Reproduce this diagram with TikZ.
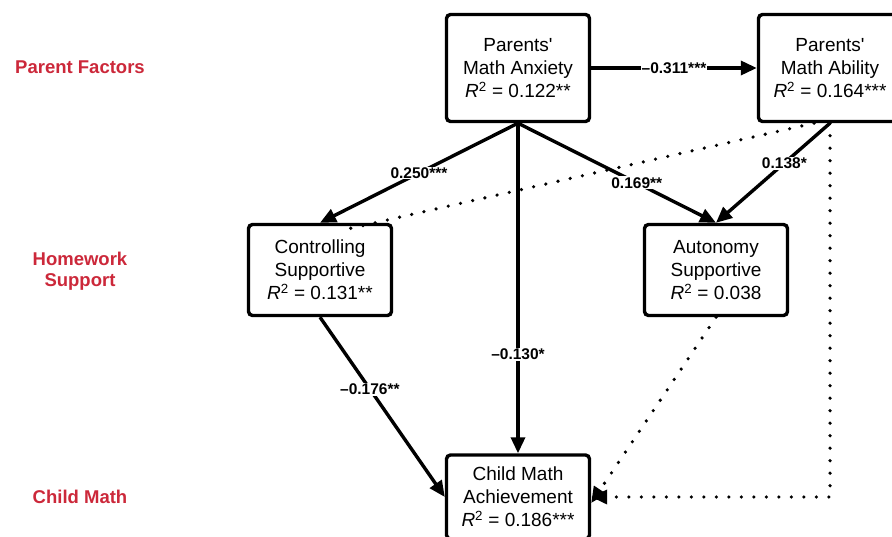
\documentclass[tikz,border=0pt]{standalone}
\usepackage{fontspec}
\setmainfont{Liberation Sans}
\newfontfamily\plainsans{Liberation Sans}
\usepackage{tikz}
\usetikzlibrary{arrows.meta,shapes}
\definecolor{factorred}{RGB}{204,40,58}
\tikzstyle{varbox}=[draw,line width=3.4pt,rounded corners=4pt,align=center,minimum width=143pt,inner sep=2pt,font=\plainsans\fontsize{19}{23}\selectfont]
\tikzstyle{level}=[text=factorred,align=center,font=\bfseries\fontsize{18.5}{21.5}\selectfont]
\tikzstyle{edge} = [draw,line width=3.4pt,-{Triangle[length=16pt,width=14pt]}]
\tikzstyle{dotedge} = [draw,line width=3.6pt,line cap=round,dash pattern=on 0pt off 12.5pt]
\tikzstyle{coef}=[fill=white,inner sep=1pt,font=\bfseries\fontsize{15.5}{17}\selectfont]

\begin{document}
\begin{tikzpicture}[x=1pt,y=-1pt]

    \clip (0,0) rectangle (892,537);
    \fill[white] (0,0) rectangle (892,537);

    % side labels
    \node[level] (lblparent) at (80,67) {Parent Factors};
    \node[level] (lblhomework) at (80,271) {Homework\\Support};
    \node[level] (lblchild) at (80,497) {Child Math};

    % variables
    \foreach \pos/\name/\txt in {{(518,68)/anxiety/Parents'\\Math Anxiety\\\textit{R}\textsuperscript{2} = 0.122**},
                                 {(830,68)/ability/Parents'\\Math Ability\\\textit{R}\textsuperscript{2} = 0.164***}}
        \node[varbox, minimum height=107pt] (\name) at \pos {\txt};

    \foreach \pos/\name/\txt in {{(320,270)/ctrl/Controlling\\Supportive\\\textit{R}\textsuperscript{2} = 0.131**},
                                 {(716,270)/auto/Autonomy\\Supportive\\\textit{R}\textsuperscript{2} = 0.038}}
        \node[varbox, minimum height=91pt] (\name) at \pos {\txt};

    \node[varbox, minimum height=84pt] (child) at (518,497) {Child Math\\Achievement\\\textit{R}\textsuperscript{2} = 0.186***};

    % non-significant paths
    \path[dotedge] ([xshift=-16pt]ability.south) -- ([xshift=24pt,yshift=-7pt]ctrl.north);
    \path[dotedge,-{Triangle[length=16pt,width=14pt]}] (auto.south) -- ([yshift=-6pt]child.east);
    \path[dotedge,-{Triangle[length=16pt,width=14pt]}] (ability.south) |- (child.east);

    % significant paths
    \foreach \source/\dest/\p/\lab in {anxiety.east/ability.west/0.5/{--0.311***},
                                       anxiety.south/ctrl.north/0.5/{0.250***},
                                       anxiety.south/auto.north/0.6/{0.169**},
                                       ability.south/auto.north/0.4/{0.138*},
                                       anxiety.south/child.north/0.7/{--0.130*},
                                       ctrl.south/child.west/0.4/{--0.176**}}
        \path[edge] (\source) -- node[coef, pos=\p] {\lab} (\dest);

\end{tikzpicture}
\end{document}
